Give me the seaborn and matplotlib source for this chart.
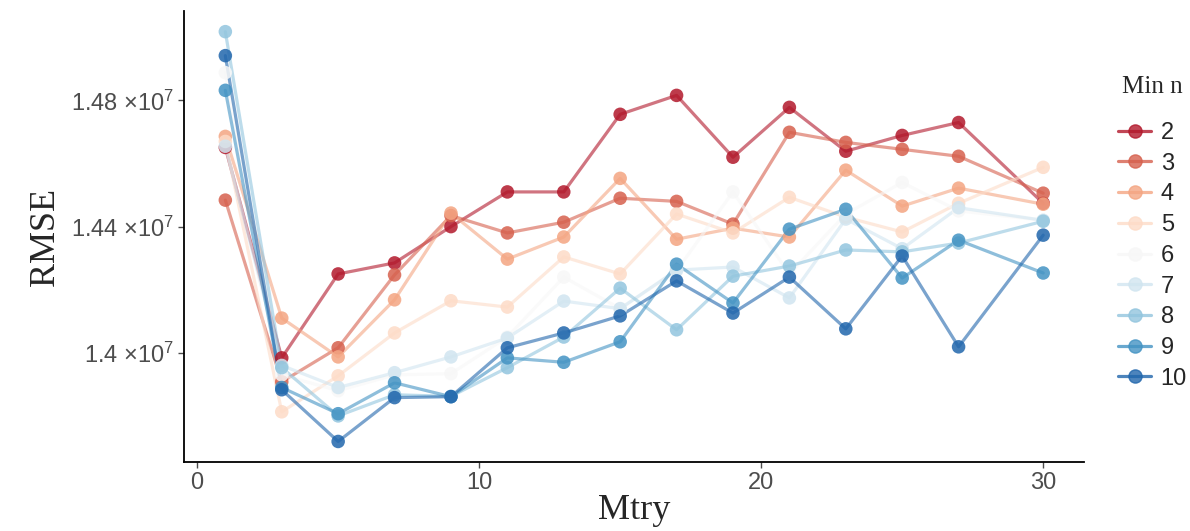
import pandas as pd
import seaborn as sns
import matplotlib.pyplot as plt
from matplotlib.lines import Line2D

# Mtry values on the x axis
mtry = [1, 3, 5, 7, 9, 11, 13, 15, 17, 19, 21, 23, 25, 27, 30]

# RMSE per min node size
rmse_2 = [14651000, 13984000, 14250000, 14285000, 14400000, 14510000, 14510000, 14756000,
          14816000, 14620000, 14778000, 14639000, 14689000, 14730000, 14474000]
rmse_3 = [14484000, 13908000, 14016000, 14247000, 14435000, 14380000, 14414000, 14490000,
          14480000, 14408000, 14699000, 14667000, 14645000, 14623000, 14506000]
rmse_4 = [14686000, 14110000, 13987000, 14168000, 14443000, 14297000, 14367000, 14553000,
          14360000, 14395000, 14367000, 14579000, 14465000, 14522000, 14471000]
rmse_5 = [14670000, 13813000, 13927000, 14063000, 14165000, 14145000, 14304000, 14250000,
          14440000, 14380000, 14493000, 14430000, 14383000, 14474000, 14588000]
rmse_6 = [14888000, 13930000, 13880000, 13930000, 13934000, 14050000, 14240000, 14140000,
          14260000, 14510000, 14250000, 14440000, 14540000, 14450000, 14420000]
rmse_7 = [14655000, 13960000, 13890000, 13937000, 13987000, 14047000, 14164000, 14140000,
          14262000, 14272000, 14174000, 14424000, 14330000, 14460000, 14420000]
rmse_8 = [15018000, 13953000, 13800000, 13867000, 13862000, 13953000, 14050000, 14205000,
          14073000, 14243000, 14275000, 14326000, 14320000, 14348000, 14417000]
rmse_9 = [14832000, 13890000, 13807000, 13905000, 13861000, 13984000, 13970000, 14035000,
          14281000, 14158000, 14392000, 14455000, 14237000, 14357000, 14253000]
rmse_10 = [14942000, 13883000, 13719000, 13858000, 13861000, 14016000, 14063000, 14117000,
           14228000, 14126000, 14240000, 14076000, 14307000, 14019000, 14373000]

min_n = [2, 3, 4, 5, 6, 7, 8, 9, 10]
series = [rmse_2, rmse_3, rmse_4, rmse_5, rmse_6, rmse_7, rmse_8, rmse_9, rmse_10]

y_ticks = [14000000, 14400000, 14800000]
y_tick_labels = [r'1.4 $\times$10$^{7}$', r'1.44 $\times$10$^{7}$', r'1.48 $\times$10$^{7}$']
x_ticks = [0, 10, 20, 30]

palette = ['#B2182B', '#D6604D', '#F4A582', '#FDDBC7', '#F7F7F7',
           '#D1E5F0', '#92C5DE', '#4393C3', '#2166AC']

rows = []
for n, vals in zip(min_n, series):
    for m, v in zip(mtry, vals):
        rows.append({'Mtry': m, 'RMSE': v, 'Min n': n})
df = pd.DataFrame(rows)

sns.set_style('ticks')
plt.rcParams['font.family'] = ['Liberation Sans', 'DejaVu Sans']
plt.rcParams['mathtext.fontset'] = 'custom'
plt.rcParams['mathtext.rm'] = 'Liberation Sans'
plt.rcParams['mathtext.default'] = 'regular'

fig = plt.figure(figsize=(11.9, 5.31), dpi=100)
ax = fig.add_axes([0.155, 0.130, 0.756, 0.849])

sns.lineplot(data=df, x='Mtry', y='RMSE', hue='Min n', palette=palette,
             linewidth=2.3, alpha=0.6, legend=False, ax=ax)
sns.scatterplot(data=df, x='Mtry', y='RMSE', hue='Min n', palette=palette,
                s=95, alpha=0.85, edgecolor='none', legend=False, ax=ax, zorder=3)

ax.set_xlim(-0.45, 31.45)
ax.set_ylim(13654000, 15083000)
ax.set_xticks(x_ticks)
ax.set_xticklabels([str(t) for t in x_ticks])
ax.set_yticks(y_ticks)
ax.set_yticklabels(y_tick_labels)
ax.tick_params(axis='both', labelsize=17, colors='#4D4D4D', length=4, width=1)
for s in ['left', 'bottom']:
    ax.spines[s].set_linewidth(1.3)
    ax.spines[s].set_color('black')
sns.despine(ax=ax)

ax.set_xlabel('Mtry', family='Liberation Serif', fontsize=26, labelpad=0)
ax.set_ylabel('RMSE', family='Liberation Serif', fontsize=26, labelpad=6)

handles = [Line2D([0], [0], color=c, marker='o', markersize=9.5, linewidth=2.3,
                  alpha=0.8) for c in palette]
leg = fig.legend(handles, [str(n) for n in min_n], title='Min n', frameon=False,
                 loc='upper left', bbox_to_anchor=(1097 / 1190, 1 - 55 / 531),
                 fontsize=17, handlelength=1.4, labelspacing=0.37, handletextpad=0.4)
leg.get_title().set_family('Liberation Serif')
leg.get_title().set_fontsize(18)
leg._legend_box.sep = 17

fig.savefig('out.png', dpi=100)
